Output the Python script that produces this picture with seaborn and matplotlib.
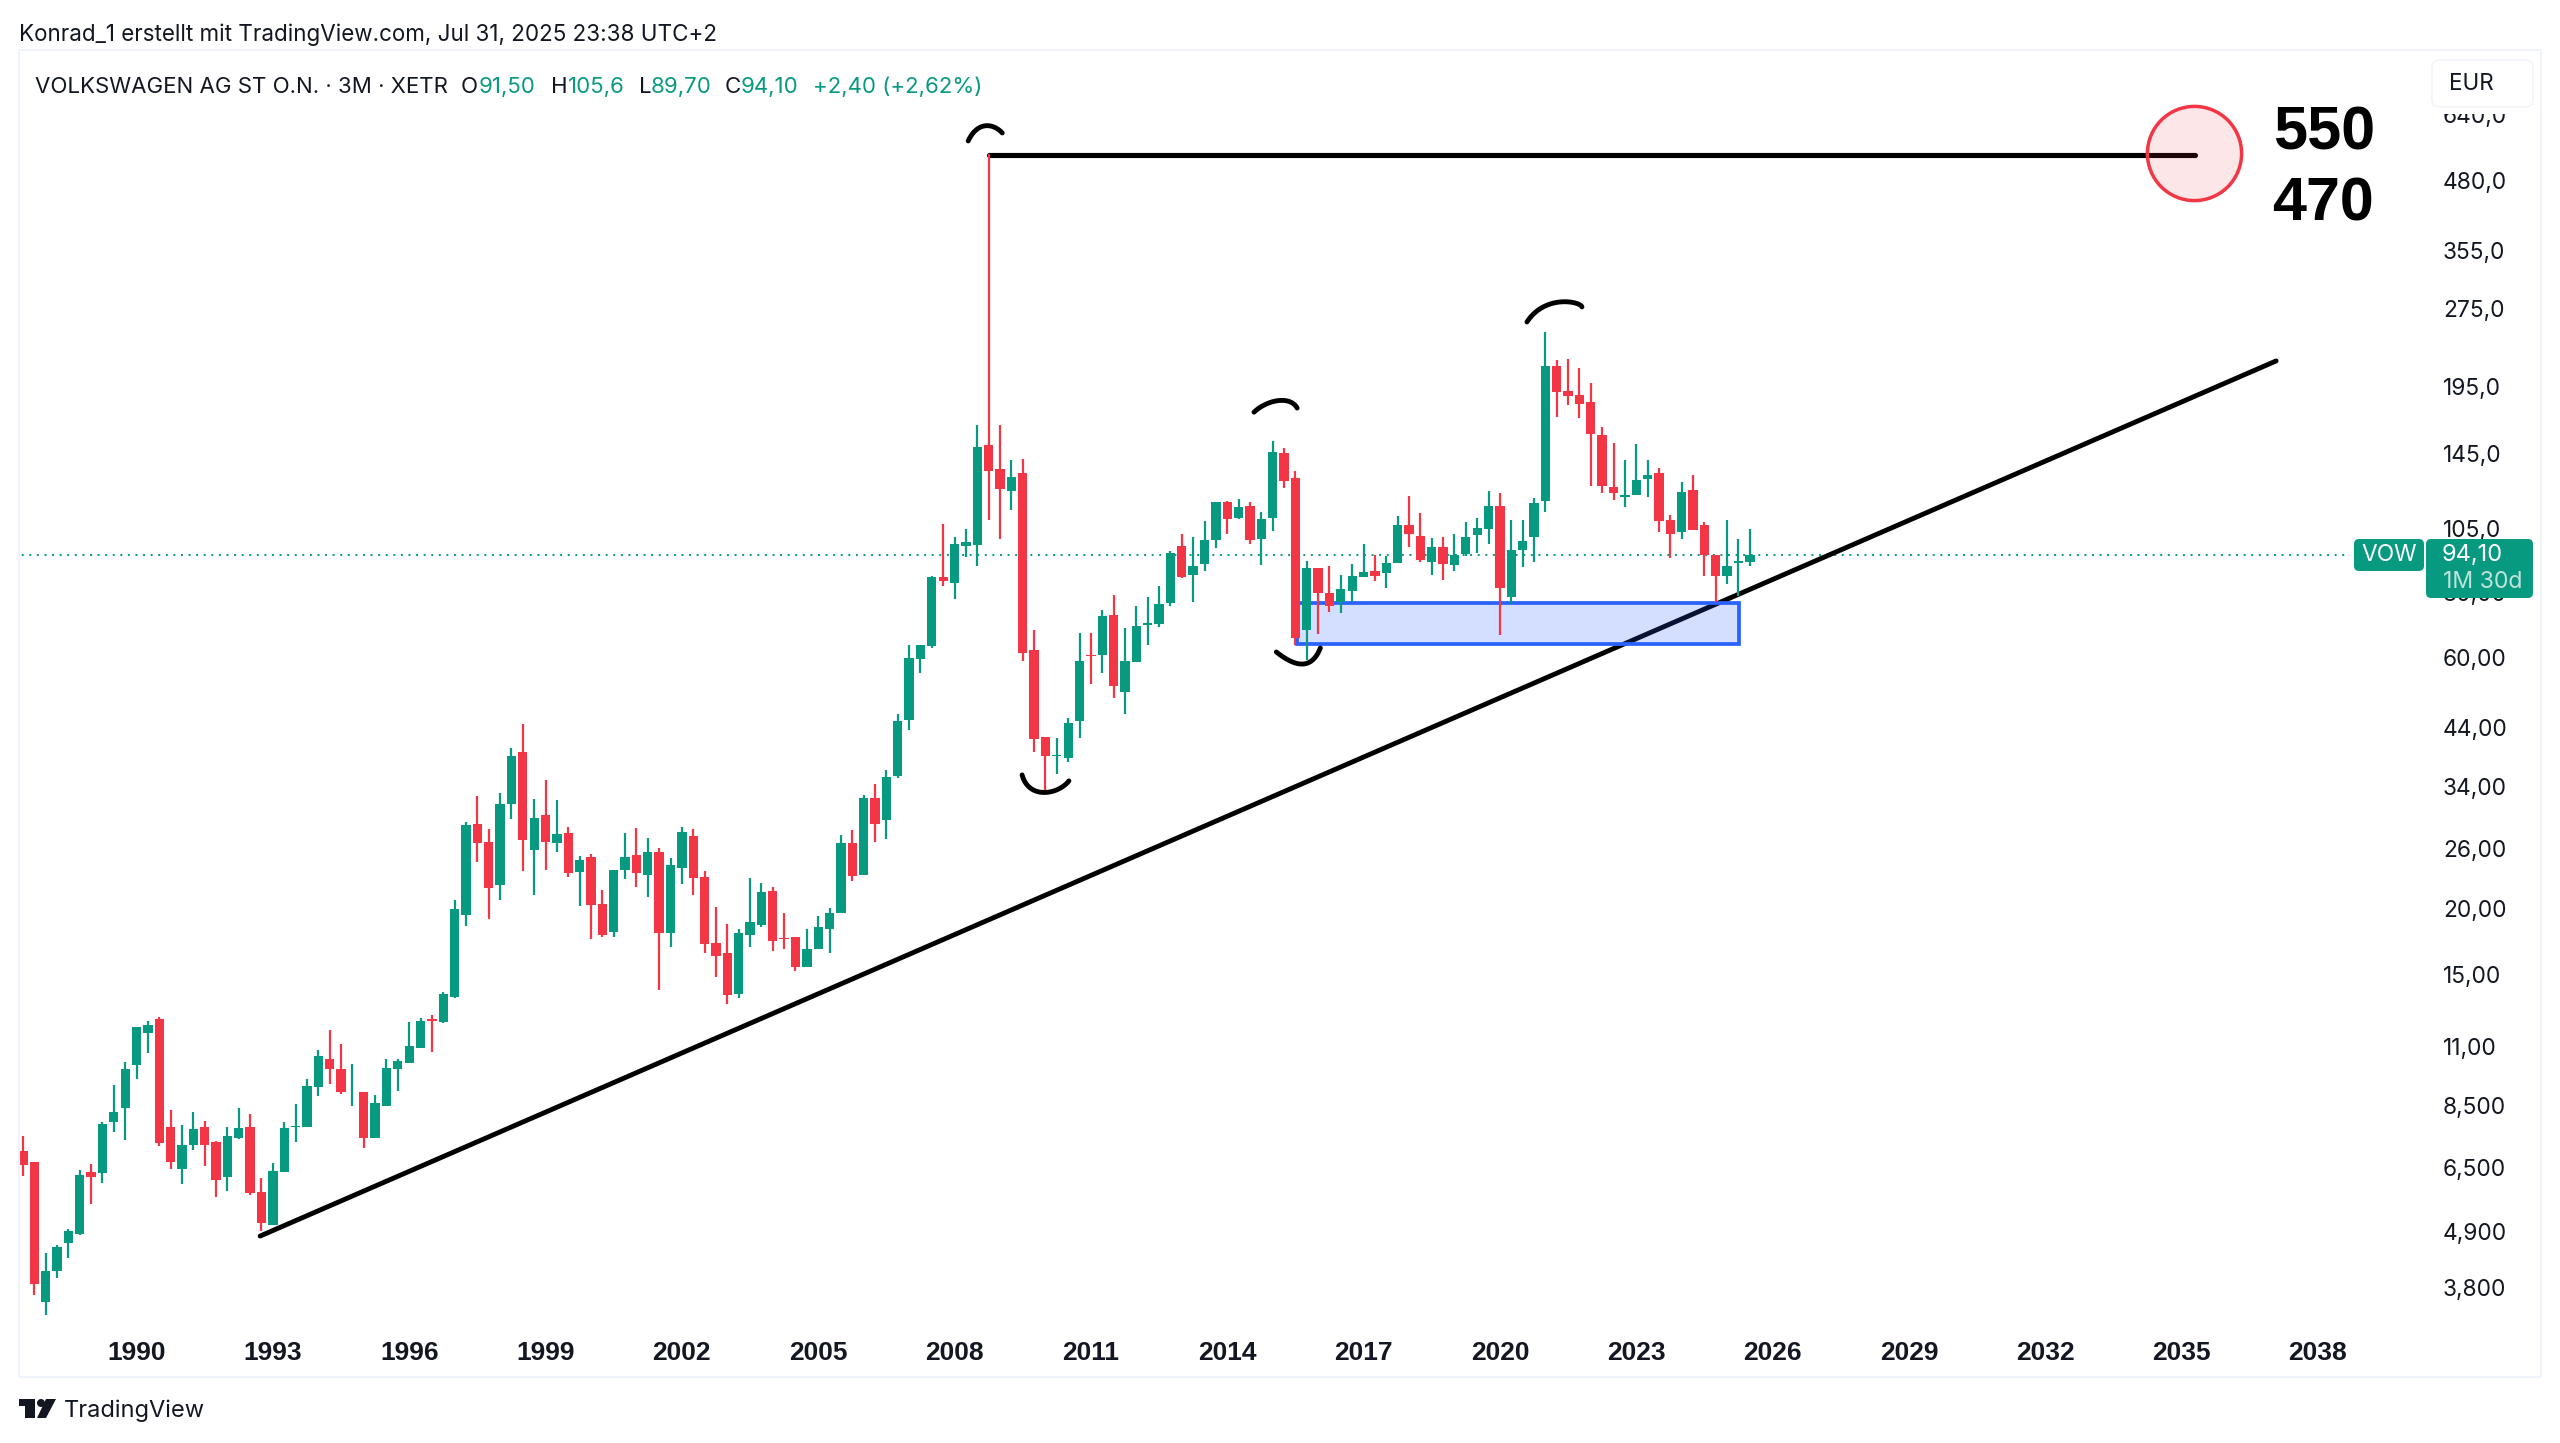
import numpy as np
import pandas as pd
import matplotlib
matplotlib.use("Agg")
import matplotlib.pyplot as plt
import seaborn as sns
from matplotlib.patches import FancyBboxPatch, Rectangle, Polygon, Ellipse

# quarterly candles VOW, 1987 Q3 - 2025 Q3
opens = [6.92,6.61,3.57,4.10,4.62,4.81,6.31,6.29,7.87,8.34,10.09,11.62,12.34,7.70,6.39,7.12,7.70,7.20,6.17,7.34,7.70,5.79,5.01,6.32,7.69,7.68,9.18,10.37,9.92,8.95,8.97,7.33,8.45,9.93,10.18,10.86,12.33,12.2,
         13.59,19.5,28.95,26.76,22.23,31.6,39.8,25.9,30.2,26.7,27.9,23.45,25.05,20.45,18.1,23.7,25.35,23.15,25.6,17.95,23.95,27.5,22.95,17.2,16.5,13.8,17.8,18.6,21.65,17.6,17.65,15.5,16.8,18.3,19.6,26.65,23.2,32.5,29.5,35.75,
         45.65,59.8,63.3,85.4,83.2,98.2,98.3,152.5,137,124.9,134.7,62,42.5,39.1,38.7,45.5,60.9,60.8,72.4,51.8,58.9,69.4,69.6,76.2,98,86.3,90.4,100.8,118.6,110.6,116.5,100.9,110.8,147.1,132,67.9,
         88.8,79.7,76.6,80.3,85.7,88,87.2,90.9,107.4,102.6,91.3,97.6,90.3,94.6,102.9,105.7,116.6,78.5,96.4,101.8,
         119.3,216,193.6,189.7,184.4,159.5,127.1,121.5,122.6,131.5,135.2,110,104,125.2,107.2,94.1,85.9,91.1,91.5]
highs = [7.39,6.61,4.42,4.59,4.91,6.37,6.53,7.85,9.24,10.24,11.9,12.23,12.45,8.30,7.76,8.20,7.89,7.23,7.70,8.37,8.13,6.16,6.58,7.86,8.51,9.51,10.78,11.74,11.08,10.12,8.97,8.83,10.37,10.37,12.18,12.38,12.54,13.91,
         20.78,29.28,32.74,28.33,33.17,40.4,44.9,32.4,35.16,32.2,28.6,25.2,25.45,21.75,23.75,27.9,28.45,27.3,26.05,24.95,28.6,28.35,23.55,20.15,18.75,18.3,22.9,22.4,22.0,19.6,17.7,18.3,19.4,20.05,27.6,28.25,32.9,34.55,36.8,46.95,
         63.5,63.65,85.8,108,102,105.5,166.2,545,166.2,142.8,143.4,67.8,42.5,42.2,46.2,67,67,73.9,79.1,68.4,75.5,78.3,82.1,96,103.2,101.8,109.2,118.6,119.1,120.2,118.6,113.7,155.3,150.6,136,91.8,
         88.8,89.6,86.2,90.6,98.9,94.1,93.8,111.6,122.1,113,101.3,102,103.2,109,110.6,124.8,123.5,109.7,110,120.7,
         249.7,221.5,222.4,213.4,199.7,164.9,153.6,142.6,153.1,142.6,137.6,112.2,129.8,133.7,108.8,94.2,109.6,101,105.6]
lows = [6.21,3.69,3.38,3.97,4.34,4.80,5.50,6.02,7.52,7.25,9.51,10.65,7.09,6.39,5.99,6.95,6.48,5.65,5.82,7.30,5.70,4.87,5.01,6.32,7.21,7.68,8.80,9.28,8.87,8.45,7.00,7.33,8.45,9.01,10.18,10.86,10.70,12.15,
        13.55,18.52,24.55,19.15,20.8,29.7,23.6,21.25,23.75,25.7,23.0,20.25,17.55,17.65,17.7,22.8,22.0,21.05,14.0,16.9,22.25,21.25,16.45,14.85,13.2,13.55,16.9,18.45,16.65,16.75,15.25,15.5,16.8,16.5,19.6,22.6,23.2,26.75,27.2,35.4,
        43.8,56.2,62.8,82.2,77.8,93.2,89.6,109.8,101.2,114.8,59.3,39.7,33.7,36.1,38.1,42.2,53.6,56.2,50.4,47,58.9,63.6,68.7,75.3,85.3,76.8,87.8,97.3,103.2,110.1,99,90.3,104.8,126.3,63.6,59.5,
        66.7,73.5,73,76.8,85.5,84.2,81.4,90.9,97.7,91.5,86.3,84.5,87.7,93.6,95,99,66.4,76.1,89.2,91.5,
        113.8,172.1,181.7,171.4,127.4,123.7,119.8,116.4,122.6,121.5,104.3,93,101,104.9,86.1,76.7,82.8,78.6,89.7]
closes = [6.51,3.86,4.10,4.54,4.87,6.22,6.18,7.79,8.23,9.92,11.9,12.03,7.17,6.59,7.10,7.63,7.12,6.10,7.39,7.67,5.77,5.05,6.33,7.67,7.74,9.20,10.50,9.92,8.97,8.98,7.33,8.55,9.96,10.25,10.95,12.23,12.26,13.80,
          19.95,28.83,26.68,21.87,31.68,39.1,27.05,29.8,26.8,27.75,23.4,24.75,20.3,17.85,23.75,25.1,23.4,25.6,17.95,24.25,28.0,22.9,17.15,16.3,13.7,18.0,18.9,21.55,17.35,17.5,15.5,16.8,18.45,19.65,26.65,23.1,32.5,29.0,35.55,45.6,
          59.9,63.5,85.5,84,98.9,99.7,151.4,136.3,126,132.3,61.3,42.05,39.1,39.3,45.2,59.2,60.5,72,53,59.2,68.9,69.8,76,95.2,85.5,89.8,100.6,118.6,110.3,116,100.8,110.5,147.7,130,65.4,89.1,
          79.9,75.4,81,85.8,87.6,86.1,90.9,107.6,103.2,92,97.6,90.5,94.1,101.8,105.9,116.6,81.4,96.3,100.2,118.1,
          215.2,192.4,189.1,182.5,160,127.4,123.7,122.4,130.8,134,109.3,103.5,124.1,104.9,94,85.9,89.8,91.6,94.1]

# axis labels are rounded on the chart, so the tick prices sit a little off the printed text
price_ticks = [3.8,4.87,6.45,8.44,10.92,15,20,26,34.1,44.2,60,80,105.7,147,197,277,357,486,648]
price_labels = ["3,800","4,900","6,500","8,500","11,00","15,00","20,00","26,00","34,00","44,00","60,00","80,00",
                "105,0","145,0","195,0","275,0","355,0","480,0","640,0"]
year_ticks = list(range(1990, 2039, 3))

last_price = 94.10

# drawings on the chart
trend_x = [1992.72, 2037.08]
trend_y = [4.77, 220.4]
top_x = [2008.75, 2035.3]
top_y = [544, 544]
circle_x = 2035.27
circle_y = 547
zone_x = [2015.53, 2025.27]
zone_y = [63.8, 76.3]
arcs = [
    ([2008.30,2008.47,2008.67,2008.87,2009.05], [577.6,606.1,616.8,614.1,598.2]),
    ([2009.49,2009.66,2009.99,2010.26,2010.52], [35.94,33.95,33.22,33.8,35.01]),
    ([2014.59,2014.83,2015.12,2015.36,2015.54], [176.2,181.7,185.8,184.1,179.4]),
    ([2015.08,2015.34,2015.61,2015.85,2016.05], [61.6,59.48,58.44,59.22,62.69]),
    ([2020.60,2020.93,2021.37,2021.64,2021.81], [261.4,279.2,285.3,284.1,279.2]),
]

W, H = 2560, 1443
UP = "#089981"
DOWN = "#F23645"
INK = "#131722"

sns.set_theme(style="white")
plt.rcParams['font.family'] = ['Inter', 'DejaVu Sans']

fig = plt.figure(figsize=(W/100, H/100), dpi=100, facecolor="white")
ax = fig.add_axes([19/W, 1-1331/H, (2427-19)/W, (1331-50)/H])
ax.set_yscale("log")
ax.patch.set_alpha(0)

quarters = 1987.5 + np.arange(len(opens))*0.25
candles = pd.DataFrame({"t": quarters, "o": opens, "h": highs, "l": lows, "c": closes})
candles["dir"] = np.where(candles.c >= candles.o, "up", "down")
palette = {"up": UP, "down": DOWN}

# wicks
wicks = candles.melt(id_vars=["t", "dir"], value_vars=["l", "h"], value_name="price")
sns.lineplot(data=wicks, x="t", y="price", units="t", hue="dir", palette=palette, estimator=None,
             linewidth=1.6, legend=False, ax=ax, zorder=5, solid_capstyle="butt")
# bodies
ax.bar(candles.t, np.abs(candles.c-candles.o), bottom=candles[["o", "c"]].min(axis=1), width=0.205,
       color=candles.dir.map(palette), linewidth=0, zorder=6)

# trend line and top line
sns.lineplot(x=trend_x, y=trend_y, color="black", linewidth=3.5, ax=ax, zorder=2, solid_capstyle="round")
sns.lineplot(x=top_x, y=top_y, color="black", linewidth=3.7, ax=ax, zorder=2, solid_capstyle="round")

# hand drawn brackets
for xs, ys in arcs:
    t = np.linspace(0, 1, len(xs))
    tt = np.linspace(0, 1, 40)
    sx = np.polyval(np.polyfit(t, xs, 3), tt)
    sy = np.exp(np.polyval(np.polyfit(t, np.log(ys), 3), tt))
    ax.plot(sx, sy, color="black", lw=3.5, solid_capstyle="round", zorder=4)

# zone
ax.add_patch(Rectangle((zone_x[0], zone_y[0]), zone_x[1]-zone_x[0], zone_y[1]-zone_y[0],
                       facecolor=(0.161, 0.384, 1.0, 0.2), edgecolor="#2962FF", lw=2.7, zorder=3))

# target circle
sns.scatterplot(x=[circle_x], y=[circle_y], s=4600, facecolor=(0.949, 0.212, 0.271, 0.12),
                edgecolor=DOWN, linewidth=2.5, ax=ax, zorder=3, legend=False)

# last price line
ax.plot([1980, 2038.71], [last_price, last_price], color=UP, lw=1.4,
        linestyle=(0, (1, 2.9)), zorder=1)

ax.set_xlim(1987.414, 2040.4)
ax.set_ylim(3.147, 860.4)
ax.set_xlabel("")
ax.set_ylabel("")
for s in ax.spines.values():
    s.set_visible(False)

ax.yaxis.tick_right()
ax.set_yticks(price_ticks, labels=price_labels)
ax.yaxis.set_minor_locator(matplotlib.ticker.NullLocator())
ax.tick_params(axis="y", length=0, pad=11.5, labelsize=16.4, labelcolor=INK)
ax.set_xticks(year_ticks, labels=[str(y) for y in year_ticks])
ax.tick_params(axis="x", length=0, pad=7, labelsize=19, labelcolor=INK, bottom=True)
for lab in ax.get_xticklabels():
    lab.set_fontfamily("Liberation Sans")
    lab.set_fontweight("bold")

# helpers in picture pixels
def px_box(x0, y0, x1, y1, **kw):
    return FancyBboxPatch((x0/W, 1-y1/H), (x1-x0)/W, (y1-y0)/H, transform=fig.transFigure, **kw)

def px_text(x, y, s, **kw):
    kw.setdefault("va", "center")
    kw.setdefault("zorder", 20)
    fig.text(x/W, 1-y/H, s, **kw)

# frame
fig.add_artist(Rectangle((19/W, 1-1377/H), (2541-19)/W, (1377-50)/H, transform=fig.transFigure,
                         fill=False, edgecolor="#F0F3FA", lw=1.5, zorder=1))

# EUR box, white margin under it cuts the top tick label
fig.add_artist(Rectangle((2432/W, 1-114/H), 101/W, 54/H, transform=fig.transFigure,
                         facecolor="white", edgecolor="none", zorder=9))
fig.add_artist(px_box(2432, 60, 2533, 107, boxstyle="round,pad=0,rounding_size=0.003",
                      facecolor="white", edgecolor="#F0F3FA", lw=1, zorder=10, mutation_aspect=W/H))
px_text(2471, 84, "EUR", ha="center", fontsize=16.2, color=INK)

# last price labels
fig.add_artist(px_box(2354, 539, 2424, 571, boxstyle="round,pad=0,rounding_size=0.002",
                      facecolor=UP, edgecolor="none", zorder=10, mutation_aspect=W/H))
fig.add_artist(px_box(2426, 539, 2533, 598, boxstyle="round,pad=0,rounding_size=0.002",
                      facecolor=UP, edgecolor="none", zorder=10, mutation_aspect=W/H))
px_text(2389, 555, "VOW", ha="center", fontsize=16.4, color="white")
px_text(2442, 555, "94,10", ha="left", fontsize=17, color="white")
px_text(2443, 582, "1M 30d", ha="left", fontsize=16.6, color="#BFE3DB")

# big numbers
px_text(2324, 134, "550", ha="center", fontsize=44, color="black", fontweight="bold", family="Liberation Sans")
px_text(2323, 205, "470", ha="center", fontsize=44, color="black", fontweight="bold", family="Liberation Sans")

# header
px_text(19, 35, "Konrad_1 erstellt mit TradingView.com, Jul 31, 2025 23:38 UTC+2", ha="left", fontsize=16.15, color=INK)
px_text(35, 87, "VOLKSWAGEN AG ST O.N. · 3M · XETR", ha="left", fontsize=16, color=INK)
legend_parts = [(461, "O", INK), (479, "91,50", UP), (551, "H", INK), (568, "105,6", UP), (639, "L", INK),
                (651, "89,70", UP), (725, "C", INK), (741, "94,10", UP), (813, "+2,40 (+2,62%)", UP)]
for x, s, c in legend_parts:
    px_text(x, 87, s, ha="left", fontsize=16, color=c)

# logo
logo_t = [(19,1399),(35,1399),(35,1418),(25,1418),(25,1406),(19,1406)]
logo_s = [(46,1399),(56,1399),(46,1418),(37,1418)]
for pts in (logo_t, logo_s):
    fig.add_artist(Polygon([(x/W, 1-y/H) for x, y in pts], transform=fig.transFigure, facecolor=INK, edgecolor="none"))
fig.add_artist(Ellipse((41/W, 1-1403/H), 8/W, 8/H, transform=fig.transFigure, facecolor=INK, edgecolor="none"))
px_text(64, 1411, "TradingView", ha="left", fontsize=17, color=INK)

fig.savefig("out.png", dpi=100, facecolor="white")
